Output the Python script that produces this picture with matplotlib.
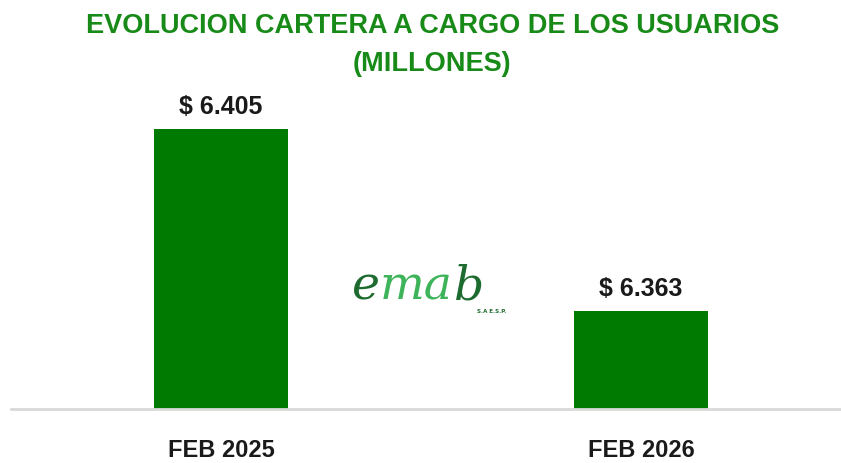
import matplotlib.pyplot as plt

periodos = ['FEB 2025', 'FEB 2026']
cartera = [6405, 6363]
etiquetas = ['$ 6.405', '$ 6.363']

titulo = 'EVOLUCION CARTERA A CARGO DE LOS USUARIOS\n(MILLONES)'


def main():
    fig = plt.figure(figsize=(8.41, 4.64), dpi=100)
    ax = fig.add_axes([11 / 841, 54 / 464, 830 / 841, 330 / 464])

    x = list(range(len(periodos)))
    ax.bar(x, cartera, width=0.32, color='#007A00', zorder=2)

    # eje truncado como en el original
    ax.set_ylim(6340.4, 6416.5)
    ax.set_xlim(-0.5, 1.476)

    for i, v in enumerate(cartera):
        ax.text(i, v + 2.5, etiquetas[i], ha='center', va='bottom',
                fontsize=18, fontweight='bold', color='#1a1a1a',
                family='Liberation Sans')

    for s in ['top', 'right', 'left']:
        ax.spines[s].set_visible(False)
    ax.spines['bottom'].set_color('#d9d9d9')
    ax.spines['bottom'].set_linewidth(2)
    ax.set_yticks([])
    ax.set_xticks(x)
    ax.set_xticklabels(periodos, fontsize=17, fontweight='bold',
                       color='#1a1a1a', family='Liberation Sans')
    ax.tick_params(axis='x', length=0, pad=21)

    fig.text(0.514, 0.972, titulo, ha='center', va='top', fontsize=19.5,
             fontweight='bold', color='#178A17', family='Liberation Sans',
             linespacing=1.6)

    # logo emab (aproximado con texto)
    fig.text(0.418, 0.355, 'e', fontsize=34, fontstyle='italic',
             color='#1E6B30', family='DejaVu Serif', ha='left', va='baseline')
    fig.text(0.451, 0.355, 'ma', fontsize=34, fontstyle='italic',
             color='#3DB35A', family='DejaVu Serif', ha='left', va='baseline')
    fig.text(0.540, 0.355, 'b', fontsize=34, fontstyle='italic',
             color='#1E6B30', family='DejaVu Serif', ha='left', va='baseline')
    fig.text(0.602, 0.335, 'S.A E.S.P.', fontsize=4, fontweight='bold',
             color='#1E6B30', ha='right', va='top')

    fig.savefig('out.png', dpi=100)


if __name__ == '__main__':
    main()
